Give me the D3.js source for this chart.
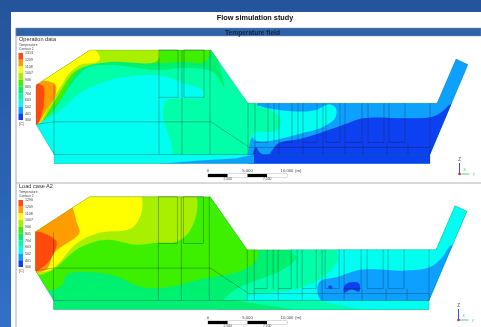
<!DOCTYPE html>
<html>
<head>
<meta charset="utf-8">
<script src="https://cdn.jsdelivr.net/npm/d3@7"></script>
<style>
    html, body { margin: 0; padding: 0; background: #fff; overflow: hidden; }
    svg { display: block; font-family: "Liberation Sans", Arial, sans-serif; }
</style>
</head>
<body>
<svg id="chart" width="481" height="327"></svg>
<script>
// temperature bands, coldest to hottest
var bandColors = ["#0a40f0", "#0ea0ff", "#00fff0", "#00ffa8", "#00f070", "#3cf000", "#a8f000", "#ffff00", "#ff9c00", "#ff4a10"];
var opLegend = ["1313", "1209", "1108", "1007", "906", "805", "704", "603", "502", "401", "300"];
var caseLegend = ["1290", "1209", "1108", "1007", "906", "805", "704", "603", "502", "401", "300"];
var scaleTop = [0, 5000, 10000];
var scaleSub = [2500, 7500];
var scaleCells = [0, 2500, 5000, 7500];

// furnace outline, model units
var outline = [[0,35],[54,0],[175,0],[212,53],[401,53],[420,9],[432,14.5],[394,104],[394,113],[18,113],[18,104],[0,74]];
var stripRect = [[18,104],[394,104],[394,113],[18,113]];

// operation data contours
var opCyan = [[-6,80],[21,63],[44,43],[74,30],[114,25],[131,27],[147,33],[167,40],[167,47],[131,50],[127,63],[134,110],[-6,110]];
var opLightBlue = [[222,51],[300,49],[395,46],[410,-12],[446,-12],[446,120],[216,120],[214,92],[220,80],[222,60]];
var opBlob = [[220,56],[232,58],[256,61],[279,60],[293,54],[300,58],[299,68],[284,78],[266,83],[242,89],[226,91],[218,89],[215,82],[220,78]];
var opTongue = [[199,45],[216,51],[222,56],[234,59],[244,68],[244,77],[239,81],[220,82],[214,87],[212,100],[199,110]];
var opDark = [[242,93],[266,88],[286,82],[309,74],[327,68],[371,68],[394,67],[404,63],[416,53],[434,50],[434,120],[216,120],[216,106],[220,97],[224,102],[231,106],[236,100]];
var op805 = [[0,74],[19,58],[31,40],[51,18],[74,15],[121,20],[151,18],[177,22],[188,37],[184,17],[175,-2],[-6,-10],[-6,70]];
var op906 = [[1,74],[24,50],[41,22],[56,12],[79,10],[121,13],[149,12],[169,12],[174,-2],[-6,-10],[-6,70]];
var op1007 = [[2,74],[21,47],[37,23],[51,16],[74,12],[121,11],[122,-2],[44,-10],[-6,-5],[-6,70]];
var op1108 = [[2,74],[14,53],[27,33],[32,25],[44,15],[61,12],[64,8],[56,-2],[34,10],[-6,35],[-6,70]];
var op1209 = [[-4,33],[19,34],[19,47],[12,57],[1,74],[-6,60]];
var op1313 = [[-4,34],[7,36],[8,50],[6,63],[1,74],[-6,60]];
var opStripDark = [[218,104],[394,104],[394,113],[218,113]];
var opStripBlue = [[114,114],[164,110],[199,108],[218,104],[218,114]];

// load case contours
var case704 = [[254,53],[261,61],[244,75],[224,83],[204,91],[189,103],[184,115],[446,115],[446,-12],[410,-12],[395,44],[264,48]];
var caseCyan = [[304,48],[302,65],[287,81],[264,92],[237,96],[217,98],[211,104],[274,115],[446,115],[446,-12],[410,-12],[395,44]];
var caseLightBlue = [[284,86],[304,80],[327,73],[371,74],[394,71],[407,61],[416,49],[434,53],[396,104],[286,104]];
var caseBlob = [[309,90],[314,86],[324,87],[324,95],[316,93],[309,96]];
var caseDot = [[293,90],[296,89],[297,92],[294,92]];
var case906 = [[9,93],[19,93],[27,88],[32,78],[61,76],[84,81],[104,90],[131,91],[164,83],[204,75],[220,65],[223,55],[214,43],[175,-7],[-6,-7],[-6,83]];
var case1007 = [[14,75],[44,51],[71,43],[101,48],[121,46],[141,45],[154,35],[162,11],[157,-7],[64,-12],[-6,-7],[-6,78]];
var case1108 = [[0,74],[14,74],[22,68],[42,46],[64,36],[97,31],[107,10],[102,-7],[54,-12],[-6,3]];
var case1209 = [[0,76],[11,73],[19,56],[44,36],[41,25],[38,13],[29,-7],[14,8],[-8,35],[-8,73]];
var case1313 = [[0,35],[7,36],[21,45],[16,61],[7,71],[0,74],[-8,63],[-8,38]];
var caseStripSpring = [[18,104],[280,104],[327,113],[18,113]];
var caseStrip805 = [[18,104],[200,104],[260,113],[18,113]];

// internal structure lines
var boxes = [[123,142,0,47],[148,168,0,47]];
var longColumns = [[146,0],[123,47],[174,0],[18,35],[212,53],[219,53],[243,53],[267,53],[287,53],[309,53],[394,53]];
var shortColumns = [232,238,256,262,281,290,304,326,332,348,353,369];
var lowColumns = [327,351,372];
var bayFloors = [[219,232],[243,256],[267,281],[290,304],[309,326],[332,348],[353,369]];
var wallLine = [[0,74],[18,71.5],[175,71.5],[212,96]];
var floorLines = [[18,104,394,104],[212,97,394,97]];

var svg = d3.select("#chart");
var defs = svg.append("defs");

var bg = defs.append("linearGradient").attr("id", "slide").attr("x1", 0).attr("y1", 0).attr("x2", 0).attr("y2", 1);
bg.append("stop").attr("offset", 0).attr("stop-color", "#24549a");
bg.append("stop").attr("offset", 1).attr("stop-color", "#3170c8");

defs.append("filter").attr("id", "soft").attr("x", 0).attr("y", 0)
    .attr("filterUnits", "userSpaceOnUse").attr("width", 481).attr("height", 327)
    .append("feGaussianBlur").attr("stdDeviation", 0.6);

var root = svg.append("g").attr("filter", "url(#soft)");

root.append("rect").attr("width", 481).attr("height", 327).attr("fill", "url(#slide)");
root.append("rect").attr("x", 11).attr("y", 12).attr("width", 470).attr("height", 315).attr("fill", "#fff");
root.append("line").attr("x1", 16).attr("x2", 16).attr("y1", 28).attr("y2", 327).attr("stroke", "#8d959c").attr("stroke-width", 0.8);
root.append("rect").attr("x", 16).attr("y", 28).attr("width", 465).attr("height", 8)
    .attr("fill", "#2f62a6").attr("stroke", "#7f97b0").attr("stroke-width", 0.5);
root.append("line").attr("x1", 16).attr("x2", 481).attr("y1", 183).attr("y2", 183).attr("stroke", "#b4b4b4").attr("stroke-width", 1);

root.append("text").attr("x", 255).attr("y", 20).attr("text-anchor", "middle")
    .attr("font-size", 7.3).attr("font-weight", "bold").attr("fill", "#111").text("Flow simulation study");
root.append("text").attr("x", 252.5).attr("y", 34.5).attr("text-anchor", "middle")
    .attr("font-size", 6.6).attr("font-weight", "bold").attr("fill", "#0e2340").text("Temperature field");

var areaLine = d3.line().curve(d3.curveCatmullRomClosed.alpha(0.5));
var straightLine = d3.line().curve(d3.curveLinearClosed);

function drawField(id, panel) {
    var x = d3.scaleLinear().domain([0, 432]).range(panel.xRange);
    var y = d3.scaleLinear().domain([0, 113]).range(panel.yRange);
    var project = function (p) { return [x(p[0]), y(p[1])]; };
    var g = root.append("g");

    defs.append("clipPath").attr("id", id).append("path").attr("d", straightLine(outline.map(project)));

    var field = g.append("g").attr("clip-path", "url(#" + id + ")");

    field.selectAll(".band")
        .data(panel.layers)
        .enter()
        .append("path")
        .attr("fill", function (d) { return bandColors[d[0]]; })
        .attr("d", function (d) { return d[1] === outline ? straightLine(d[1].map(project)) : areaLine(d[1].map(project)); });

    field.selectAll(".strip")
        .data(panel.strips)
        .enter()
        .append("path")
        .attr("fill", function (d) { return bandColors[d[0]]; })
        .attr("d", function (d) { return straightLine(d[1].map(project)); });

    var lineColor = "rgba(8,30,50,0.5)";
    var lines = g.append("g").attr("stroke", lineColor).attr("stroke-width", 0.6).attr("fill", "none");

    function seg(x1, y1, x2, y2) {
        lines.append("line").attr("x1", x(x1)).attr("y1", y(y1)).attr("x2", x(x2)).attr("y2", y(y2));
    }

    boxes.forEach(function (b) {
        lines.append("rect").attr("x", x(b[0])).attr("y", y(b[2])).attr("width", x(b[1]) - x(b[0])).attr("height", y(b[3]) - y(b[2]));
    });
    longColumns.forEach(function (c) { seg(c[0], c[1], c[0], 104); });
    shortColumns.forEach(function (c) { seg(c, 53, c, 92); });
    lowColumns.forEach(function (c) { seg(c, 92, c, 104); });
    bayFloors.forEach(function (f) { seg(f[0], 92, f[1], 92); });
    floorLines.forEach(function (f) { seg(f[0], f[1], f[2], f[3]); });
    lines.append("path").attr("d", d3.line()(wallLine.map(project)));

    g.append("path").attr("d", straightLine(outline.map(project)))
        .attr("fill", "none").attr("stroke", "rgba(20,70,70,0.4)").attr("stroke-width", 0.5);

    // label and colour legend
    g.append("text").attr("x", 19).attr("y", panel.labelY).attr("font-size", 5.6).attr("fill", "#333").text(panel.label);
    g.append("text").attr("x", 19).attr("y", panel.legendTop - 7).attr("font-size", 3.3).attr("fill", "#444").text("Temperature");
    g.append("text").attr("x", 19).attr("y", panel.legendTop - 3.5).attr("font-size", 3.3).attr("fill", "#444").text("Contour 2");

    var ly = d3.scaleLinear().domain([0, 10]).range([panel.legendTop, panel.legendTop + 67]);
    g.selectAll(".swatch")
        .data(d3.range(10))
        .enter()
        .append("rect")
        .attr("x", 18.5)
        .attr("y", function (d) { return ly(d); })
        .attr("width", 4.5)
        .attr("height", function (d) { return ly(d + 1) - ly(d); })
        .attr("fill", function (d) { return bandColors[9 - d]; });
    g.selectAll(".level")
        .data(panel.legend)
        .enter()
        .append("text")
        .attr("x", 25)
        .attr("y", function (d, i) { return ly(i) + 1.3; })
        .attr("font-size", 3.6)
        .attr("fill", "#444")
        .text(function (d) { return d; });
    g.append("text").attr("x", 19).attr("y", panel.legendTop + 72).attr("font-size", 3.6).attr("fill", "#444").text("[C]");

    // scale bar
    var sx = d3.scaleLinear().domain([0, 10000]).range([208, 287]);
    var fmt = d3.format(",");
    g.append("rect").attr("x", sx(0)).attr("y", panel.barY).attr("width", sx(10000) - sx(0)).attr("height", 3)
        .attr("fill", "#fff").attr("stroke", "#555").attr("stroke-width", 0.4);
    g.selectAll(".cell")
        .data(scaleCells)
        .enter()
        .append("rect")
        .attr("x", function (d) { return sx(d); })
        .attr("y", panel.barY)
        .attr("width", sx(2500) - sx(0))
        .attr("height", 3)
        .attr("fill", function (d, i) { return i % 2 ? "#fff" : "#000"; });
    g.selectAll(".top")
        .data(scaleTop)
        .enter()
        .append("text")
        .attr("x", function (d) { return sx(d); })
        .attr("y", panel.barY - 1.8)
        .attr("text-anchor", "middle")
        .attr("font-size", 4.2)
        .attr("fill", "#444")
        .text(function (d) { return fmt(d); });
    g.append("text").attr("x", 295).attr("y", panel.barY - 1.8).attr("font-size", 4.2).attr("fill", "#444").text("(m)");
    g.selectAll(".sub")
        .data(scaleSub)
        .enter()
        .append("text")
        .attr("x", function (d) { return sx(d); })
        .attr("y", panel.barY + 5.6)
        .attr("text-anchor", "middle")
        .attr("font-size", 3.4)
        .attr("fill", "#444")
        .text(function (d) { return fmt(d); });

    // axis triad
    var t = panel.triad;
    g.append("line").attr("x1", t).attr("x2", t).attr("y1", panel.triadY - 11).attr("y2", panel.triadY).attr("stroke", "#3c46d8").attr("stroke-width", 1);
    g.append("line").attr("x1", t).attr("x2", t + 10).attr("y1", panel.triadY).attr("y2", panel.triadY).attr("stroke", "#35c060").attr("stroke-width", 0.8);
    g.append("circle").attr("cx", t).attr("cy", panel.triadY).attr("r", 1.3).attr("fill", "#d02848");
    g.append("text").attr("x", t).attr("y", panel.triadY - 13).attr("text-anchor", "middle").attr("font-size", 4.5).attr("fill", "#556").text("Z");
    g.append("text").attr("x", t + 13).attr("y", panel.triadY + 1.5).attr("font-size", 4).attr("fill", "#7a9").text("Y");
    g.append("text").attr("x", t + 4).attr("y", panel.triadY - 3).attr("font-size", 3.4).attr("fill", "#4a8").text("X");
}

drawField("fieldOp", {
    xRange: [36, 468], yRange: [50, 163.5],
    layers: [[3, outline], [2, opCyan], [1, opLightBlue], [2, opBlob], [3, opTongue], [0, opDark],
             [4, op805], [5, op906], [6, op1007], [7, op1108], [8, op1209], [9, op1313]],
    strips: [[2, stripRect], [1, opStripBlue], [0, opStripDark]],
    label: "Operation data", labelY: 41, legend: opLegend, legendTop: 53,
    barY: 174, triad: 459.5, triadY: 174
});

drawField("fieldCase", {
    xRange: [35.5, 467], yRange: [196.8, 309.5],
    layers: [[4, outline], [3, case704], [2, caseCyan], [1, caseLightBlue], [0, caseBlob], [0, caseDot],
             [5, case906], [6, case1007], [7, case1108], [8, case1209], [9, case1313]],
    strips: [[2, stripRect], [3, caseStripSpring], [4, caseStrip805]],
    label: "Load case A2", labelY: 188, legend: caseLegend, legendTop: 200,
    barY: 321, triad: 458.5, triadY: 320
});
</script>
</body>
</html>
